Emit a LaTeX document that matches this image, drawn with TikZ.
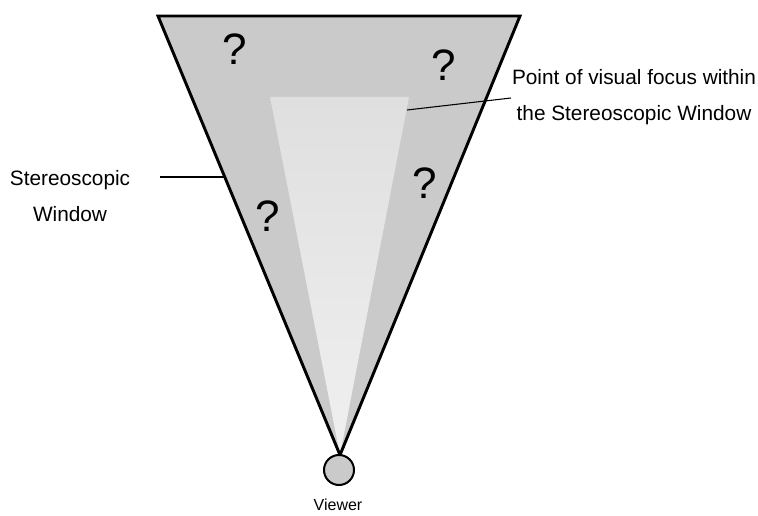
\documentclass[tikz,border=0pt]{standalone}
\usepackage{fontspec}
\setmainfont{Liberation Sans}
\usepackage{xcolor}
\definecolor{windowgrey}{HTML}{CACACA}
\definecolor{focustop}{HTML}{DFDFDF}
\definecolor{focusbottom}{HTML}{F0F0F0}
\tikzset{
    label/.style={font=\fontsize{15.6}{27}\selectfont, align=center, inner sep=0pt},
    query/.style={font=\fontsize{33}{33}\selectfont, inner sep=0pt},
}

\begin{document}
\begin{tikzpicture}[x=0.75pt, y=-0.75pt]
    \useasboundingbox (0,0) rectangle (758,516);

    % Stereoscopic window
    \coordinate (winL) at (158,16);
    \coordinate (winR) at (520,16);
    \coordinate (apex) at (340,455);
    \fill[windowgrey] (winL) -- (winR) -- (apex) -- cycle;

    % Focus region
    \shade[top color=focustop, bottom color=focusbottom]
        (270,97) -- (409,97) -- (apex) -- cycle;
    \draw[line width=2.2pt, line join=miter] (winL) -- (winR) -- (apex) -- cycle;

    % Question marks
    \foreach \x/\y [count=\i] in {235/49, 444/65, 425/183, 268/216} {
        \node[query] (q\i) at (\x,\y) {?};
    }

    % Viewer
    \node[circle, draw, line width=1.5pt, fill=windowgrey, minimum size=30*0.75pt,
          inner sep=0pt] (viewer) at (339,470) {};
    \node[font=\fontsize{12}{14}\selectfont, inner sep=0pt] (viewerlbl) at (338,505) {Viewer};

    % Labels
    \node[label] (winlbl) at (70,196) {Stereoscopic\\Window};
    \coordinate (winfrom) at (160,177);
    \coordinate (winto) at (225,177);
    \draw[line width=0.8pt] (winfrom) -- (winto);

    \node[label] (focuslbl) at (634,97) {Point of visual focus within\\the Stereoscopic Window};
    \coordinate (focusfrom) at (511,98);
    \coordinate (focusto) at (407,110);
    \draw[line width=0.8pt] (focusfrom) -- (focusto);
\end{tikzpicture}
\end{document}
